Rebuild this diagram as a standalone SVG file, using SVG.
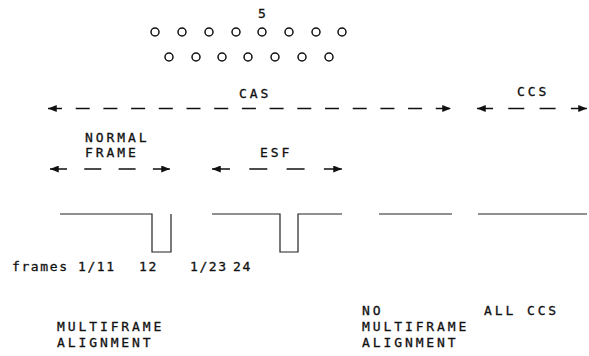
<svg xmlns="http://www.w3.org/2000/svg" width="589" height="356" viewBox="0 0 589 356">
<style>
.t{font-family:"DejaVu Sans Mono","Liberation Mono",monospace;font-size:13px;fill:#111;stroke:#111;stroke-width:0.3;letter-spacing:2.9px}
.s{font-family:"DejaVu Sans Mono","Liberation Mono",monospace;font-size:13px;fill:#111;stroke:#111;stroke-width:0.3;letter-spacing:1.6px}
.pin{fill:none;stroke:#111;stroke-width:1.5}
.arr{fill:none;stroke:#111;stroke-width:1.3;marker-start:url(#ah);marker-end:url(#ah)}
.wave{fill:none;stroke:#222;stroke-width:1.2}
</style>
<defs>
<marker id="ah" viewBox="0 0 10 8" refX="10" refY="4" markerWidth="9" markerHeight="7" markerUnits="userSpaceOnUse" orient="auto-start-reverse">
<path d="M0,0 L10,4 L0,8 z" fill="#111"/>
</marker>
</defs>
<rect width="589" height="356" fill="#fff"/>
<g id="connector-pins">
<text class="t" x="258" y="18">5</text>
<circle class="pin" cx="155" cy="32" r="4"/>
<circle class="pin" cx="182" cy="32" r="4"/>
<circle class="pin" cx="209" cy="32" r="4"/>
<circle class="pin" cx="236" cy="32" r="4"/>
<circle class="pin" cx="262" cy="32" r="4"/>
<circle class="pin" cx="289" cy="32" r="4"/>
<circle class="pin" cx="316" cy="32" r="4"/>
<circle class="pin" cx="342" cy="32" r="4"/>
<circle class="pin" cx="169" cy="57" r="4"/>
<circle class="pin" cx="196" cy="57" r="4"/>
<circle class="pin" cx="222" cy="57" r="4"/>
<circle class="pin" cx="248" cy="57" r="4"/>
<circle class="pin" cx="275" cy="57" r="4"/>
<circle class="pin" cx="302" cy="57" r="4"/>
<circle class="pin" cx="329" cy="57" r="4"/>
</g>
<g id="label-cas"><text class="t" x="239" y="97.5">CAS</text></g>
<g id="label-ccs"><text class="t" x="517" y="95.5">CCS</text></g>
<g id="label-normal-frame"><text class="t" x="85" y="141.5">NORMAL</text><text class="t" x="85" y="157">FRAME</text></g>
<g id="label-esf"><text class="t" x="260" y="157">ESF</text></g>
<g id="connectors">
<path class="arr" d="M48,108.5 H451" stroke-dasharray="14 13.7"/>
<path class="arr" d="M477,108.5 H587" stroke-dasharray="16 15.3"/>
<path class="arr" d="M50,169 H170" stroke-dasharray="17 17.3"/>
<path class="arr" d="M212,169 H342" stroke-dasharray="18 19.3"/>
</g>
<g id="waveform-normal"><path class="wave" d="M60,214 H152 V252 H171 V214"/></g>
<g id="waveform-esf"><path class="wave" d="M212,214 H280 V252 H298 V214 H342"/></g>
<g id="waveform-none"><path class="wave" d="M379,214 H452"/></g>
<g id="waveform-ccs"><path class="wave" d="M478,214 H587"/></g>
<g id="label-frames"><text class="s" x="12" y="271">frames</text><text class="s" x="78" y="271">1/11</text><text class="s" x="139" y="271">12</text><text class="s" x="190" y="271">1/23</text><text class="s" x="233" y="271">24</text></g>
<g id="label-multiframe"><text class="t" x="57" y="331">MULTIFRAME</text><text class="t" x="57" y="347">ALIGNMENT</text></g>
<g id="label-no-multiframe"><text class="t" x="362" y="315">NO</text><text class="t" x="362" y="331">MULTIFRAME</text><text class="t" x="362" y="347">ALIGNMENT</text></g>
<g id="label-all-ccs"><text class="t" x="484" y="315">ALL CCS</text></g>
</svg>
